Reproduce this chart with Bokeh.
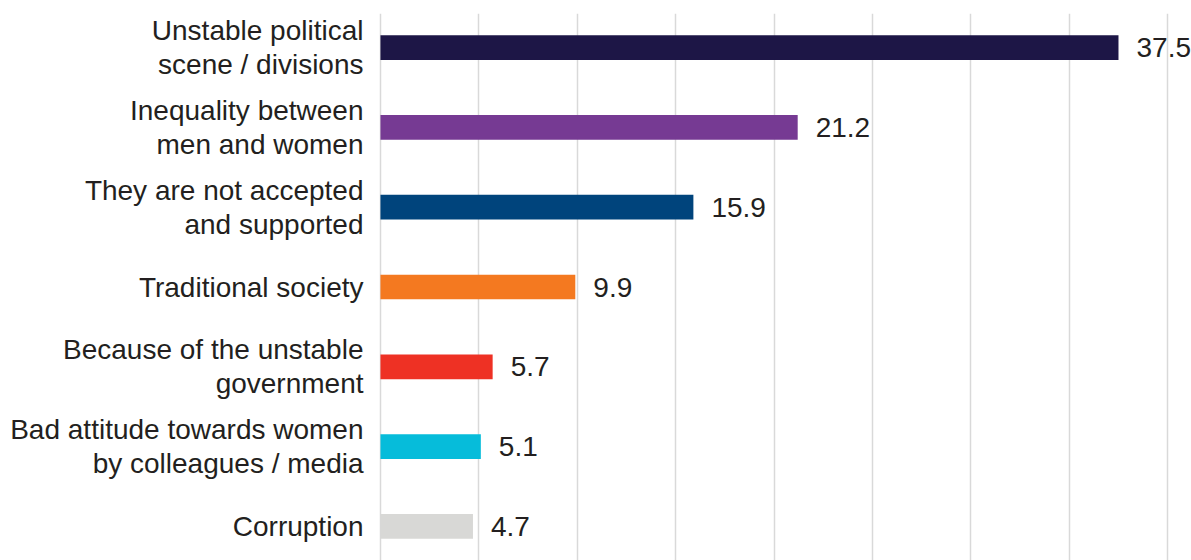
from bokeh.plotting import figure
from bokeh.models import FactorRange, Range1d, ColumnDataSource, SingleIntervalTicker
from bokeh.core.properties import value
from bokeh.embed import file_html
from bokeh.resources import INLINE

categories = [
    "Unstable political\nscene / divisions",
    "Inequality between\nmen and women",
    "They are not accepted\nand supported",
    "Traditional society",
    "Because of the unstable\ngovernment",
    "Bad attitude towards women\nby colleagues / media",
    "Corruption",
]
values = [37.5, 21.2, 15.9, 9.9, 5.7, 5.1, 4.7]
colors = ["#1d1646", "#763a93", "#00447c", "#f47920", "#ee3124", "#06bcda", "#d8d8d6"]
value_labels = ["37.5", "21.2", "15.9", "9.9", "5.7", "5.1", "4.7"]

FONT = "Liberation Sans"
TEXT_COLOR = "#231f20"

source = ColumnDataSource(data=dict(cat=categories, val=values, color=colors, lab=value_labels))

y_range = FactorRange(factors=list(reversed(categories)), range_padding=-0.073,
                      range_padding_units="absolute")

p = figure(width=1191, height=560, y_range=y_range, x_range=Range1d(-0.1, 41.21),
           output_backend="svg", toolbar_location=None,
           min_border_left=378, min_border_right=0, min_border_top=13, min_border_bottom=0)

p.hbar(y="cat", right="val", left=0, height=0.31, color="color", line_color=None, source=source)
p.text(x="val", y="cat", text="lab", source=source, x_offset=18,
       text_align="left", text_baseline="middle",
       text_font=value(FONT), text_font_size="28px", text_color=TEXT_COLOR)

p.xaxis.visible = False
p.xaxis.ticker = SingleIntervalTicker(interval=5)
p.xgrid.ticker = SingleIntervalTicker(interval=5)
p.xgrid.grid_line_color = "#d9d9d9"
p.xgrid.grid_line_width = 1.5
p.ygrid.grid_line_color = None

ax = p.yaxis[0]
ax.axis_line_color = None
ax.major_tick_line_color = None
ax.minor_tick_line_color = None
ax.major_label_standoff = 9
ax.major_label_text_font = FONT
ax.major_label_text_font_size = "28px"
ax.major_label_text_line_height = 1.1
ax.major_label_text_color = TEXT_COLOR

p.outline_line_color = None
p.background_fill_color = "white"
p.border_fill_color = "white"

with open("out.html", "w") as f:
    f.write(file_html(p, INLINE))
